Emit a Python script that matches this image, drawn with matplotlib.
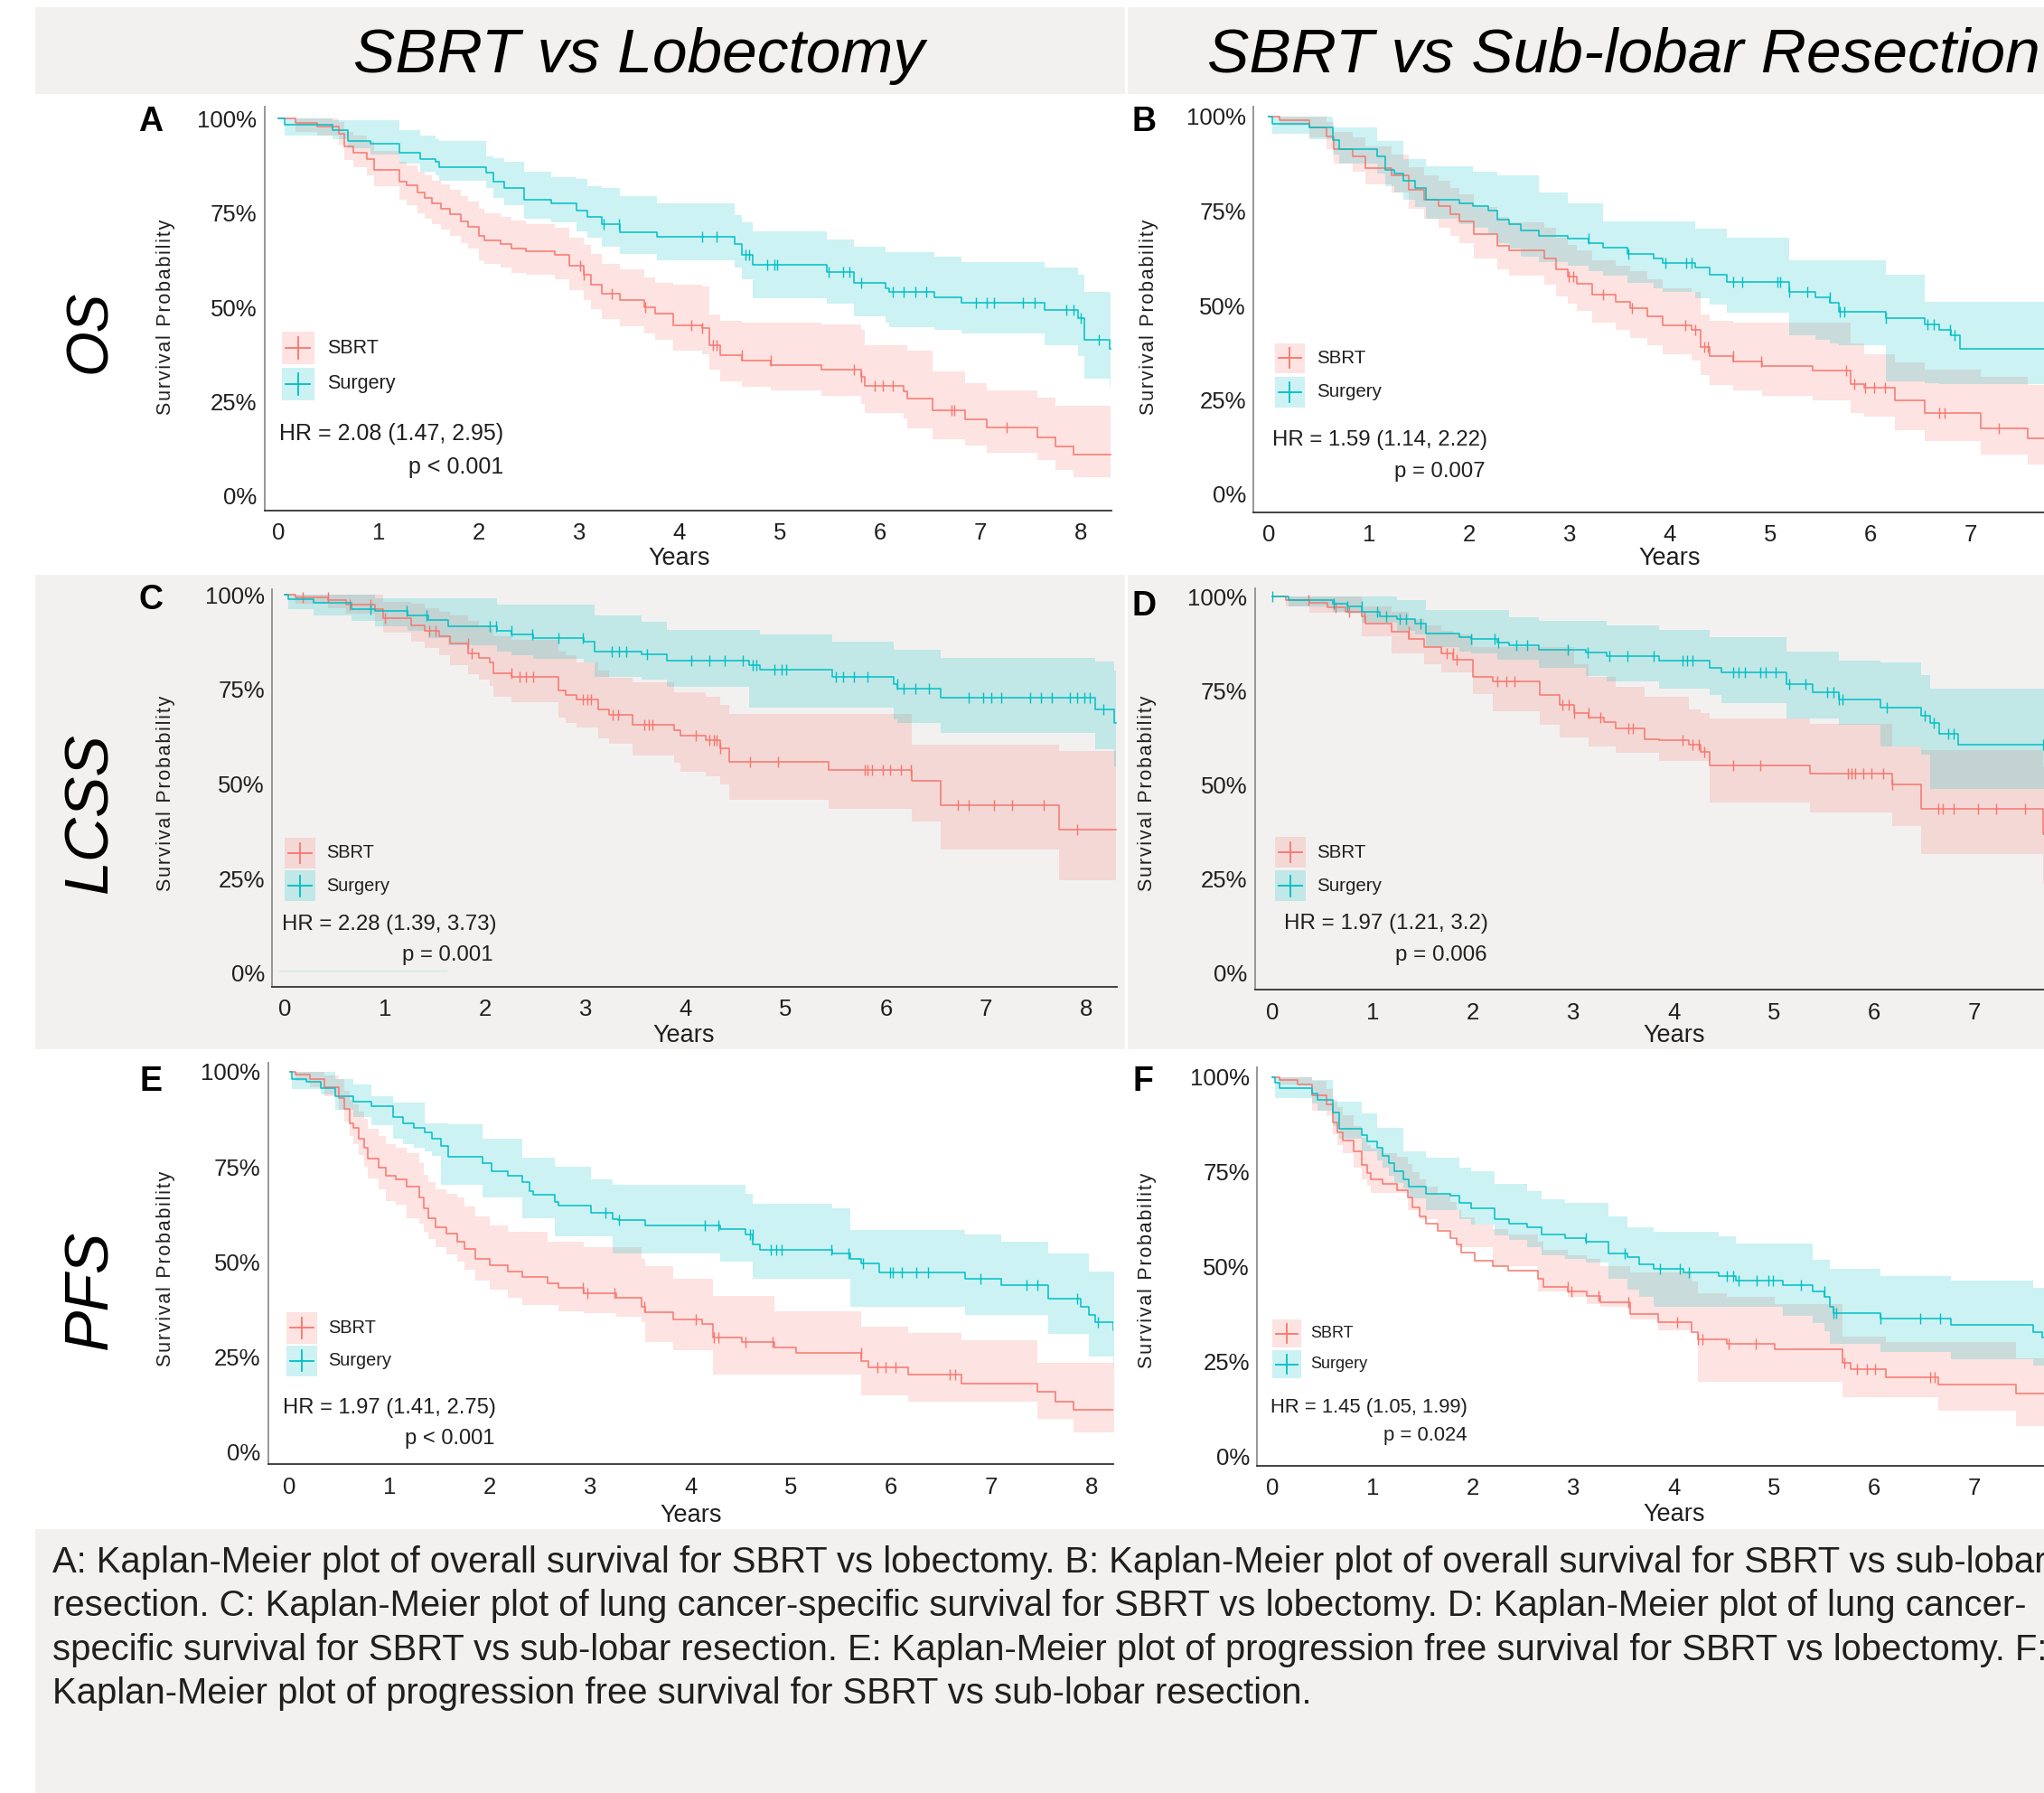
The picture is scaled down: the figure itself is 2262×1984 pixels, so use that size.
import matplotlib
matplotlib.use("Agg")
import matplotlib.pyplot as plt
from matplotlib.patches import Rectangle
import numpy as np

W, H = 2262, 1984          # output size in pixels
DPI = 100
SBRT_COLOR = "#F8766D"
SURG_COLOR = "#00BFC4"
BAND_ALPHA = 0.2
GREY = "#f2f1f0"
TEXT = "#1f1f1f"

plt.rcParams["font.family"] = ["Liberation Sans", "DejaVu Sans"]

# ------------------------------------------------------------------ data --
COL_TITLES = ["SBRT vs Lobectomy", "SBRT vs Sub-lobar Resection"]
ROW_LABELS = ["OS", "LCSS", "PFS"]
PANEL_LETTERS = ["A", "B", "C", "D", "E", "F"]
HR_TEXT = ["HR = 2.08 (1.47, 2.95)", "HR = 1.59 (1.14, 2.22)", "HR = 2.28 (1.39, 3.73)",
           "HR = 1.97 (1.21, 3.2)", "HR = 1.97 (1.41, 2.75)", "HR = 1.45 (1.05, 1.99)"]
P_TEXT = ["p < 0.001", "p = 0.007", "p = 0.001", "p = 0.006", "p < 0.001", "p = 0.024"]
Y_TICKS = [0, 0.25, 0.5, 0.75, 1.0]
Y_TICK_LABELS = ["0%", "25%", "50%", "75%", "100%"]
X_TICKS_LOB = [0, 1, 2, 3, 4, 5, 6, 7, 8]
X_TICKS_SUB = [0, 1, 2, 3, 4, 5, 6, 7]      # 8 falls outside the cropped picture
CAPTION = [
    "A: Kaplan-Meier plot of overall survival for SBRT vs lobectomy. B: Kaplan-Meier plot of overall survival for SBRT vs sub-lobar",
    "resection. C: Kaplan-Meier plot of lung cancer-specific survival for SBRT vs lobectomy. D: Kaplan-Meier plot of lung cancer-",
    "specific survival for SBRT vs sub-lobar resection. E: Kaplan-Meier plot of progression free survival for SBRT vs lobectomy. F:",
    "Kaplan-Meier plot of progression free survival for SBRT vs sub-lobar resection.",
]

# Panel A: OS, SBRT vs lobectomy
A_SBRT_T = [0, 0.172, 0.388, 0.603, 0.661, 0.747, 0.890, 0.962, 1.214, 1.285, 1.393, 1.465, 1.537, 1.623, 1.716, 1.824,
            1.896, 2.004, 2.054, 2.219, 2.327, 2.470, 2.758, 2.901, 3.045, 3.117, 3.224, 3.404, 3.655, 3.763, 3.943, 4.230,
            4.302, 4.409, 4.625, 4.912, 5.415, 5.810, 5.846, 6.241, 6.277, 6.528, 6.851, 7.066, 7.569, 7.749, 7.928, 8.30]
A_SBRT_S = [1.0, 0.988, 0.979, 0.959, 0.925, 0.910, 0.893, 0.864, 0.833, 0.823, 0.803, 0.789, 0.774, 0.760, 0.747, 0.727,
            0.714, 0.688, 0.677, 0.667, 0.655, 0.648, 0.638, 0.609, 0.587, 0.560, 0.536, 0.519, 0.501, 0.484, 0.453, 0.445,
            0.399, 0.373, 0.360, 0.346, 0.336, 0.316, 0.292, 0.278, 0.258, 0.227, 0.204, 0.182, 0.156, 0.131, 0.110, 0.110]
A_SBRT_LO = [1.0, 0.965, 0.955, 0.930, 0.890, 0.870, 0.850, 0.820, 0.785, 0.770, 0.750, 0.735, 0.720, 0.705, 0.690, 0.670,
             0.655, 0.625, 0.615, 0.605, 0.590, 0.585, 0.575, 0.545, 0.520, 0.495, 0.470, 0.450, 0.430, 0.415, 0.385, 0.375,
             0.335, 0.305, 0.290, 0.280, 0.265, 0.245, 0.220, 0.205, 0.180, 0.150, 0.135, 0.115, 0.095, 0.070, 0.050, 0.050]
A_SBRT_HI = [1.0, 1.0, 1.0, 0.990, 0.965, 0.955, 0.940, 0.915, 0.885, 0.875, 0.860, 0.850, 0.835, 0.825, 0.810, 0.795,
             0.780, 0.760, 0.750, 0.740, 0.730, 0.720, 0.710, 0.685, 0.665, 0.640, 0.615, 0.600, 0.580, 0.565, 0.560, 0.555,
             0.480, 0.465, 0.460, 0.460, 0.455, 0.440, 0.400, 0.400, 0.385, 0.330, 0.300, 0.280, 0.260, 0.240, 0.240, 0.240]
A_SBRT_CENS = [3.01, 3.05, 3.33, 3.66, 4.12, 4.23, 4.34, 4.37, 4.62, 4.91, 5.74, 5.81, 5.95, 6.03, 6.13, 6.71, 6.74, 7.26]
A_SURG_T = [0, 0.065, 0.546, 0.697, 0.926, 1.214, 1.415, 1.573, 1.609, 2.075, 2.147, 2.255, 2.456, 2.722, 2.973, 3.081,
            3.224, 3.404, 3.777, 4.553, 4.625, 4.732, 5.472, 5.738, 6.061, 6.097, 6.542, 6.815, 7.641, 7.978, 8.036, 8.287, 8.30]
A_SURG_S = [1.0, 0.983, 0.970, 0.939, 0.932, 0.910, 0.893, 0.886, 0.871, 0.857, 0.832, 0.815, 0.784, 0.776, 0.755, 0.740,
            0.720, 0.698, 0.686, 0.667, 0.638, 0.613, 0.594, 0.565, 0.550, 0.540, 0.526, 0.511, 0.494, 0.472, 0.414, 0.389, 0.389]
A_SURG_LO = [1.0, 0.955, 0.945, 0.920, 0.905, 0.880, 0.860, 0.850, 0.835, 0.815, 0.790, 0.770, 0.735, 0.725, 0.700, 0.685,
             0.660, 0.640, 0.625, 0.605, 0.575, 0.525, 0.510, 0.477, 0.460, 0.448, 0.440, 0.430, 0.400, 0.370, 0.310, 0.290, 0.290]
A_SURG_HI = [1.0, 1.0, 0.995, 0.995, 0.995, 0.970, 0.955, 0.945, 0.940, 0.900, 0.895, 0.885, 0.860, 0.845, 0.840, 0.820,
             0.815, 0.795, 0.775, 0.745, 0.725, 0.700, 0.680, 0.660, 0.645, 0.645, 0.635, 0.620, 0.605, 0.585, 0.540, 0.535, 0.535]
A_SURG_CENS = [3.25, 3.40, 4.23, 4.37, 4.66, 4.70, 4.88, 4.95, 4.98, 5.49, 5.63, 5.70, 5.81, 6.13, 6.24, 6.35, 6.46,
               6.96, 7.07, 7.14, 7.43, 7.54, 7.86, 7.93, 8.00, 8.18]

# Panel B: OS, SBRT vs sub-lobar resection
B_SBRT_T = [0, 0.106, 0.400, 0.576, 0.647, 0.840, 0.958, 1.223, 1.399, 1.546, 1.693, 1.810, 1.898, 2.045, 2.280, 2.398,
            2.751, 2.868, 2.986, 3.074, 3.221, 3.456, 3.603, 3.779, 3.926, 4.220, 4.308, 4.396, 4.632, 4.925, 5.425, 5.807,
            5.936, 6.248, 6.542, 7.100, 7.570, 8.30]
B_SBRT_S = [1.0, 0.991, 0.972, 0.947, 0.913, 0.894, 0.864, 0.845, 0.806, 0.781, 0.762, 0.742, 0.723, 0.688, 0.659, 0.645,
            0.625, 0.596, 0.576, 0.557, 0.529, 0.510, 0.493, 0.471, 0.447, 0.435, 0.391, 0.366, 0.352, 0.339, 0.327, 0.293,
            0.283, 0.249, 0.215, 0.174, 0.148, 0.148]
B_SBRT_LO = [1.0, 0.975, 0.945, 0.915, 0.875, 0.855, 0.820, 0.800, 0.755, 0.730, 0.705, 0.685, 0.665, 0.625, 0.595, 0.580,
             0.555, 0.525, 0.505, 0.485, 0.455, 0.435, 0.415, 0.395, 0.370, 0.355, 0.315, 0.290, 0.275, 0.260, 0.250, 0.215,
             0.205, 0.170, 0.140, 0.105, 0.080, 0.080]
B_SBRT_HI = [1.0, 1.0, 1.0, 0.985, 0.960, 0.945, 0.920, 0.900, 0.865, 0.845, 0.830, 0.810, 0.795, 0.760, 0.735, 0.720,
             0.705, 0.680, 0.660, 0.645, 0.620, 0.605, 0.590, 0.570, 0.545, 0.535, 0.475, 0.460, 0.455, 0.455, 0.454, 0.400,
             0.370, 0.350, 0.330, 0.310, 0.290, 0.290]
B_SBRT_CENS = [2.99, 3.04, 3.33, 3.62, 4.15, 4.25, 4.34, 4.38, 4.63, 4.91, 5.76, 5.84, 5.95, 6.04, 6.15, 6.69, 6.74, 7.28]
B_SURG_T = [0, 0.035, 0.400, 0.635, 0.705, 1.076, 1.164, 1.252, 1.340, 1.458, 1.563, 1.898, 2.034, 2.192, 2.280, 2.398,
            2.516, 2.692, 2.986, 3.191, 3.338, 3.573, 3.838, 3.926, 4.249, 4.396, 4.573, 5.190, 5.454, 5.601, 5.689, 6.160,
            6.542, 6.689, 6.806, 6.894, 8.30]
B_SURG_S = [1.0, 0.981, 0.972, 0.938, 0.913, 0.894, 0.859, 0.850, 0.830, 0.811, 0.781, 0.771, 0.764, 0.752, 0.728, 0.715,
            0.698, 0.684, 0.676, 0.664, 0.654, 0.637, 0.625, 0.613, 0.601, 0.581, 0.562, 0.537, 0.522, 0.508, 0.483, 0.467,
            0.449, 0.435, 0.420, 0.386, 0.386]
B_SURG_LO = [1.0, 0.955, 0.940, 0.900, 0.875, 0.850, 0.815, 0.800, 0.780, 0.760, 0.730, 0.715, 0.705, 0.690, 0.665, 0.650,
             0.630, 0.615, 0.605, 0.590, 0.580, 0.560, 0.545, 0.535, 0.520, 0.503, 0.480, 0.420, 0.410, 0.400, 0.395, 0.300,
             0.295, 0.293, 0.293, 0.293, 0.293]
B_SURG_HI = [1.0, 1.0, 1.0, 0.972, 0.972, 0.935, 0.935, 0.935, 0.887, 0.887, 0.869, 0.869, 0.854, 0.854, 0.845, 0.845,
             0.845, 0.800, 0.771, 0.771, 0.723, 0.723, 0.723, 0.723, 0.703, 0.703, 0.680, 0.620, 0.620, 0.620, 0.620, 0.581,
             0.510, 0.510, 0.510, 0.510, 0.510]
B_SURG_CENS = [3.19, 3.59, 3.96, 4.16, 4.22, 4.63, 4.72, 5.07, 5.10, 5.19, 5.37, 5.60, 5.70, 5.74, 6.16, 6.57, 6.63, 6.80, 6.84]

# Panel C: LCSS, SBRT vs lobectomy
C_SBRT_T = [0, 0.108, 0.431, 0.611, 0.899, 0.985, 1.258, 1.402, 1.546, 1.653, 1.833, 1.941, 2.049, 2.085, 2.265, 2.732,
            2.804, 2.912, 3.127, 3.235, 3.472, 3.882, 3.954, 4.206, 4.349, 4.436, 5.428, 6.254, 6.542, 7.728, 8.30]
C_SBRT_S = [1.0, 0.993, 0.986, 0.974, 0.961, 0.937, 0.920, 0.904, 0.891, 0.871, 0.846, 0.834, 0.821, 0.793, 0.782, 0.747,
            0.735, 0.723, 0.698, 0.683, 0.657, 0.642, 0.628, 0.616, 0.595, 0.558, 0.537, 0.509, 0.443, 0.379, 0.379]
C_SBRT_LO = [1.0, 0.975, 0.965, 0.950, 0.930, 0.900, 0.875, 0.860, 0.840, 0.815, 0.790, 0.775, 0.760, 0.730, 0.715, 0.675,
             0.660, 0.649, 0.620, 0.607, 0.575, 0.555, 0.533, 0.520, 0.500, 0.459, 0.435, 0.402, 0.328, 0.247, 0.247]
C_SBRT_HI = [1.0, 1.0, 1.0, 1.0, 1.0, 0.982, 0.975, 0.965, 0.955, 0.945, 0.930, 0.920, 0.910, 0.890, 0.880, 0.850,
             0.840, 0.821, 0.800, 0.780, 0.768, 0.743, 0.743, 0.730, 0.710, 0.686, 0.686, 0.603, 0.603, 0.587, 0.587]
C_SBRT_CENS = [0.18, 0.43, 0.65, 0.86, 1.00, 1.44, 1.51, 1.83, 1.87, 2.26, 2.34, 2.41, 2.48, 2.98, 3.02, 3.06, 3.27,
               3.33, 3.59, 3.63, 3.67, 4.10, 4.24, 4.28, 4.31, 4.35, 4.64, 4.92, 5.79, 5.82, 5.86, 5.97, 6.04, 6.15,
               6.25, 6.72, 6.83, 7.08, 7.26, 7.57, 7.91]
C_SURG_T = [0, 0.036, 0.288, 0.669, 0.899, 1.222, 1.438, 1.632, 2.121, 2.265, 2.480, 2.983, 3.091, 3.559, 3.810, 4.637,
            4.745, 5.464, 6.075, 6.111, 6.542, 8.088, 8.280, 8.30]
C_SURG_S = [1.0, 0.988, 0.978, 0.963, 0.957, 0.945, 0.932, 0.916, 0.904, 0.895, 0.886, 0.875, 0.850, 0.842, 0.826, 0.813,
            0.801, 0.784, 0.764, 0.751, 0.729, 0.698, 0.661, 0.661]
C_SURG_LO = [1.0, 0.961, 0.945, 0.930, 0.916, 0.904, 0.885, 0.866, 0.850, 0.840, 0.830, 0.820, 0.784, 0.775, 0.756, 0.702,
             0.702, 0.702, 0.670, 0.661, 0.636, 0.591, 0.546, 0.546]
C_SURG_HI = [1.0, 1.0, 1.0, 1.0, 0.990, 0.990, 0.990, 0.990, 0.974, 0.974, 0.974, 0.974, 0.945, 0.928, 0.908, 0.908,
             0.895, 0.877, 0.854, 0.854, 0.834, 0.823, 0.800, 0.800]
C_SURG_CENS = [0.86, 1.22, 1.42, 2.05, 2.11, 2.26, 2.47, 2.73, 2.98, 3.26, 3.34, 3.41, 3.62, 4.06, 4.24, 4.39, 4.57,
               4.67, 4.71, 4.89, 4.96, 5.00, 5.50, 5.57, 5.68, 5.82, 6.11, 6.18, 6.29, 6.43, 6.83, 6.97, 7.05, 7.15,
               7.44, 7.55, 7.66, 7.84, 7.91, 7.98, 8.03, 8.17]

# Panel D: LCSS, SBRT vs sub-lobar resection
D_SBRT_T = [0, 0.129, 0.364, 0.552, 0.728, 0.893, 0.922, 1.186, 1.362, 1.509, 1.685, 1.803, 1.997, 2.196, 2.666, 2.860,
            3.007, 3.153, 3.300, 3.418, 3.711, 3.858, 4.152, 4.269, 4.357, 5.355, 6.177, 6.471, 7.680, 8.30]
D_SBRT_S = [1.0, 0.990, 0.983, 0.972, 0.961, 0.949, 0.928, 0.907, 0.887, 0.866, 0.850, 0.833, 0.788, 0.775, 0.738, 0.713,
            0.691, 0.678, 0.668, 0.651, 0.622, 0.620, 0.606, 0.589, 0.552, 0.531, 0.502, 0.436, 0.370, 0.370]
D_SBRT_LO = [1.0, 0.974, 0.957, 0.957, 0.957, 0.895, 0.895, 0.850, 0.850, 0.820, 0.800, 0.800, 0.742, 0.697, 0.660, 0.626,
             0.626, 0.602, 0.602, 0.585, 0.585, 0.564, 0.564, 0.564, 0.453, 0.428, 0.391, 0.317, 0.238, 0.238]
D_SBRT_HI = [1.0, 1.0, 1.0, 1.0, 1.0, 0.975, 0.975, 0.960, 0.940, 0.925, 0.910, 0.900, 0.866, 0.866, 0.866, 0.866,
             0.820, 0.788, 0.788, 0.760, 0.734, 0.734, 0.700, 0.690, 0.676, 0.662, 0.602, 0.593, 0.550, 0.550]
D_SBRT_CENS = [0.36, 0.63, 0.76, 0.92, 1.36, 1.74, 1.80, 1.84, 2.24, 2.33, 2.41, 2.89, 2.95, 3.01, 3.15, 3.27, 3.55,
               3.59, 4.09, 4.19, 4.25, 4.30, 4.59, 4.86, 5.74, 5.77, 5.81, 5.89, 5.97, 6.09, 6.18, 6.64, 6.68, 6.79,
               7.03, 7.21, 7.50]
D_SURG_T = [0, 0.159, 0.599, 0.746, 0.893, 1.069, 1.245, 1.421, 1.527, 1.862, 1.979, 2.243, 2.361, 2.654, 3.124, 3.330,
            3.858, 4.357, 4.475, 5.121, 5.385, 5.649, 6.060, 6.471, 6.559, 6.648, 6.835, 8.30]
D_SURG_S = [1.0, 0.990, 0.982, 0.974, 0.961, 0.949, 0.940, 0.928, 0.903, 0.893, 0.887, 0.878, 0.870, 0.858, 0.851, 0.843,
            0.831, 0.812, 0.800, 0.767, 0.746, 0.726, 0.705, 0.684, 0.664, 0.635, 0.608, 0.608]
D_SURG_LO = [1.0, 0.974, 0.960, 0.955, 0.932, 0.932, 0.910, 0.900, 0.866, 0.855, 0.850, 0.833, 0.833, 0.812, 0.790, 0.775,
             0.755, 0.740, 0.717, 0.676, 0.676, 0.661, 0.602, 0.580, 0.490, 0.490, 0.490, 0.490]
D_SURG_HI = [1.0, 1.0, 1.0, 1.0, 1.0, 1.0, 0.990, 0.990, 0.965, 0.965, 0.965, 0.965, 0.945, 0.936, 0.936, 0.924,
             0.912, 0.893, 0.893, 0.855, 0.855, 0.830, 0.825, 0.792, 0.755, 0.755, 0.755, 0.755]
D_SURG_CENS = [0.00, 0.61, 0.75, 0.89, 1.04, 1.13, 1.27, 1.33, 1.48, 1.98, 2.21, 2.25, 2.43, 2.54, 2.94, 3.14, 3.36,
               3.54, 3.80, 4.09, 4.13, 4.19, 4.59, 4.65, 4.71, 4.86, 4.92, 5.02, 5.15, 5.31, 5.53, 5.59, 5.65, 5.68,
               6.12, 6.50, 6.59, 6.74, 6.79, 7.68]

# Panel E: PFS, SBRT vs lobectomy
E_SBRT_T = [0, 0.058, 0.201, 0.345, 0.489, 0.546, 0.597, 0.633, 0.690, 0.740, 0.776, 0.884, 0.956, 1.064, 1.172, 1.294,
            1.337, 1.388, 1.459, 1.567, 1.675, 1.747, 1.855, 1.999, 2.178, 2.322, 2.574, 2.682, 2.933, 3.257, 3.508, 3.544,
            3.832, 4.119, 4.227, 4.515, 4.838, 5.054, 5.701, 5.773, 6.168, 6.707, 7.462, 7.642, 7.822, 8.30]
E_SBRT_S = [1.0, 0.992, 0.980, 0.959, 0.930, 0.902, 0.865, 0.853, 0.824, 0.800, 0.771, 0.747, 0.726, 0.718, 0.697, 0.669,
            0.640, 0.616, 0.591, 0.575, 0.554, 0.534, 0.509, 0.491, 0.474, 0.460, 0.444, 0.432, 0.419, 0.407, 0.383, 0.368,
            0.348, 0.338, 0.301, 0.289, 0.275, 0.262, 0.240, 0.223, 0.203, 0.180, 0.158, 0.133, 0.111, 0.111]
E_SBRT_LO = [1.0, 0.975, 0.960, 0.935, 0.900, 0.870, 0.830, 0.810, 0.780, 0.750, 0.720, 0.690, 0.660, 0.650, 0.616, 0.600,
             0.579, 0.560, 0.538, 0.520, 0.500, 0.480, 0.450, 0.428, 0.407, 0.387, 0.387, 0.370, 0.365, 0.355, 0.342, 0.289,
             0.268, 0.268, 0.203, 0.203, 0.203, 0.203, 0.150, 0.150, 0.133, 0.133, 0.088, 0.088, 0.052, 0.052]
E_SBRT_HI = [1.0, 1.0, 1.0, 0.990, 0.980, 0.950, 0.925, 0.915, 0.895, 0.875, 0.850, 0.830, 0.810, 0.800, 0.785, 0.760,
             0.730, 0.710, 0.690, 0.680, 0.669, 0.645, 0.620, 0.595, 0.579, 0.579, 0.554, 0.554, 0.538, 0.538, 0.509, 0.489,
             0.456, 0.456, 0.411, 0.411, 0.370, 0.370, 0.330, 0.330, 0.313, 0.294, 0.235, 0.235, 0.235, 0.235]
E_SBRT_CENS = [2.93, 2.97, 3.24, 3.54, 4.05, 4.23, 4.28, 4.55, 4.82, 5.70, 5.87, 5.95, 6.05, 6.59, 6.64]
E_SURG_T = [0, 0.020, 0.165, 0.309, 0.453, 0.633, 0.812, 1.028, 1.136, 1.244, 1.352, 1.423, 1.510, 1.582, 1.927, 2.013,
            2.178, 2.322, 2.394, 2.430, 2.646, 2.682, 3.005, 3.221, 3.278, 3.544, 4.299, 4.551, 4.623, 4.694, 5.413, 5.593,
            5.701, 5.881, 6.743, 7.103, 7.570, 7.894, 7.980, 8.037, 8.217, 8.30]
E_SURG_S = [1.0, 0.981, 0.973, 0.957, 0.935, 0.922, 0.910, 0.881, 0.865, 0.853, 0.841, 0.824, 0.804, 0.777, 0.759, 0.738,
            0.726, 0.710, 0.685, 0.677, 0.657, 0.648, 0.630, 0.613, 0.610, 0.597, 0.587, 0.572, 0.546, 0.531, 0.522, 0.509,
            0.497, 0.473, 0.456, 0.440, 0.403, 0.383, 0.362, 0.343, 0.321, 0.321]
E_SURG_LO = [1.0, 0.955, 0.955, 0.940, 0.900, 0.880, 0.860, 0.824, 0.810, 0.800, 0.790, 0.779, 0.702, 0.702, 0.669, 0.669,
             0.669, 0.616, 0.616, 0.616, 0.567, 0.567, 0.567, 0.522, 0.522, 0.522, 0.501, 0.501, 0.456, 0.456, 0.456, 0.383,
             0.383, 0.383, 0.362, 0.362, 0.311, 0.311, 0.252, 0.252, 0.231, 0.231]
E_SURG_HI = [1.0, 1.0, 1.0, 1.0, 0.980, 0.967, 0.935, 0.918, 0.918, 0.918, 0.865, 0.865, 0.865, 0.861, 0.824, 0.824,
             0.824, 0.775, 0.775, 0.775, 0.751, 0.751, 0.718, 0.702, 0.702, 0.702, 0.702, 0.680, 0.652, 0.652, 0.640, 0.583,
             0.583, 0.583, 0.571, 0.554, 0.523, 0.523, 0.474, 0.474, 0.474, 0.474]
E_SURG_CENS = [3.15, 3.29, 4.14, 4.28, 4.59, 4.62, 4.80, 4.86, 4.91, 5.41, 5.58, 5.72, 5.99, 6.02, 6.11, 6.25, 6.37,
               6.89, 7.35, 7.46, 7.86, 8.07]

# Panel F: PFS, SBRT vs sub-lobar resection
F_SBRT_T = [0, 0.070, 0.247, 0.393, 0.540, 0.599, 0.646, 0.705, 0.805, 0.893, 0.940, 0.981, 1.098, 1.245, 1.351, 1.392,
            1.468, 1.527, 1.644, 1.773, 1.832, 1.879, 2.020, 2.196, 2.349, 2.643, 2.701, 2.948, 3.136, 3.271, 3.565, 3.841,
            4.181, 4.240, 4.533, 5.003, 5.679, 5.767, 6.119, 6.636, 7.411, 8.30]
F_SBRT_S = [1.0, 0.993, 0.981, 0.952, 0.928, 0.879, 0.854, 0.833, 0.805, 0.768, 0.747, 0.731, 0.718, 0.702, 0.683, 0.657,
            0.632, 0.612, 0.595, 0.575, 0.558, 0.538, 0.515, 0.501, 0.488, 0.468, 0.447, 0.435, 0.423, 0.406, 0.374, 0.353,
            0.327, 0.308, 0.296, 0.281, 0.246, 0.230, 0.209, 0.189, 0.164, 0.164]
F_SBRT_LO = [1.0, 0.980, 0.980, 0.911, 0.900, 0.850, 0.820, 0.800, 0.760, 0.730, 0.714, 0.694, 0.694, 0.694, 0.649, 0.649,
             0.624, 0.624, 0.600, 0.580, 0.550, 0.550, 0.550, 0.500, 0.500, 0.435, 0.435, 0.420, 0.400, 0.394, 0.360, 0.333,
             0.333, 0.197, 0.197, 0.197, 0.156, 0.156, 0.156, 0.119, 0.078, 0.078]
F_SBRT_HI = [1.0, 1.0, 1.0, 0.989, 0.969, 0.940, 0.920, 0.900, 0.870, 0.840, 0.820, 0.810, 0.800, 0.790, 0.770, 0.750,
             0.730, 0.710, 0.690, 0.670, 0.650, 0.630, 0.610, 0.600, 0.585, 0.565, 0.545, 0.530, 0.520, 0.500, 0.484, 0.484,
             0.460, 0.430, 0.420, 0.400, 0.316, 0.316, 0.300, 0.300, 0.259, 0.259]
F_SBRT_CENS = [2.94, 2.98, 3.25, 3.55, 4.03, 4.24, 4.29, 4.55, 4.82, 5.70, 5.83, 5.93, 6.01, 6.56, 6.60]
F_SURG_T = [0, 0.023, 0.070, 0.393, 0.452, 0.599, 0.669, 0.893, 0.940, 1.039, 1.098, 1.157, 1.216, 1.304, 1.362, 1.527,
            1.773, 1.862, 1.979, 2.214, 2.361, 2.537, 2.684, 2.919, 3.124, 3.347, 3.535, 3.653, 3.799, 4.093, 4.445, 4.622,
            5.091, 5.385, 5.502, 5.561, 5.590, 6.060, 6.765, 7.587, 7.675, 8.30]
F_SURG_S = [1.0, 0.985, 0.970, 0.956, 0.940, 0.907, 0.864, 0.846, 0.829, 0.813, 0.792, 0.772, 0.751, 0.731, 0.710, 0.691,
            0.686, 0.669, 0.653, 0.624, 0.612, 0.603, 0.585, 0.575, 0.565, 0.534, 0.524, 0.505, 0.495, 0.484, 0.475, 0.464,
            0.450, 0.435, 0.419, 0.394, 0.378, 0.363, 0.345, 0.328, 0.312, 0.312]
F_SURG_LO = [1.0, 0.944, 0.944, 0.930, 0.910, 0.870, 0.837, 0.805, 0.805, 0.780, 0.760, 0.740, 0.720, 0.706, 0.680, 0.649,
             0.649, 0.625, 0.610, 0.583, 0.570, 0.550, 0.530, 0.520, 0.510, 0.468, 0.440, 0.420, 0.394, 0.394, 0.394, 0.394,
             0.370, 0.350, 0.330, 0.296, 0.296, 0.275, 0.255, 0.238, 0.238, 0.238]
F_SURG_HI = [1.0, 1.0, 1.0, 0.993, 0.993, 0.936, 0.936, 0.903, 0.903, 0.866, 0.866, 0.866, 0.866, 0.805, 0.805, 0.788,
             0.788, 0.760, 0.751, 0.718, 0.718, 0.700, 0.677, 0.669, 0.669, 0.632, 0.603, 0.603, 0.591, 0.591, 0.580, 0.560,
             0.560, 0.517, 0.517, 0.493, 0.493, 0.476, 0.464, 0.445, 0.445, 0.445]
F_SURG_CENS = [3.12, 3.51, 3.86, 4.06, 4.15, 4.53, 4.59, 4.65, 4.83, 4.94, 4.99, 5.27, 5.50, 5.59, 5.62, 6.06, 6.46, 6.66]

CURVES = {
    "A": [(A_SBRT_T, A_SBRT_S, A_SBRT_LO, A_SBRT_HI, A_SBRT_CENS), (A_SURG_T, A_SURG_S, A_SURG_LO, A_SURG_HI, A_SURG_CENS)],
    "B": [(B_SBRT_T, B_SBRT_S, B_SBRT_LO, B_SBRT_HI, B_SBRT_CENS), (B_SURG_T, B_SURG_S, B_SURG_LO, B_SURG_HI, B_SURG_CENS)],
    "C": [(C_SBRT_T, C_SBRT_S, C_SBRT_LO, C_SBRT_HI, C_SBRT_CENS), (C_SURG_T, C_SURG_S, C_SURG_LO, C_SURG_HI, C_SURG_CENS)],
    "D": [(D_SBRT_T, D_SBRT_S, D_SBRT_LO, D_SBRT_HI, D_SBRT_CENS), (D_SURG_T, D_SURG_S, D_SURG_LO, D_SURG_HI, D_SURG_CENS)],
    "E": [(E_SBRT_T, E_SBRT_S, E_SBRT_LO, E_SBRT_HI, E_SBRT_CENS), (E_SURG_T, E_SURG_S, E_SURG_LO, E_SURG_HI, E_SURG_CENS)],
    "F": [(F_SBRT_T, F_SBRT_S, F_SBRT_LO, F_SBRT_HI, F_SBRT_CENS), (F_SURG_T, F_SURG_S, F_SURG_LO, F_SURG_HI, F_SURG_CENS)],
}

# ---------------------------------------------------------------- layout --
# pixel geometry of each panel (top-left origin): axes box, px of t=0, px/year,
# px of 0% and 100%, and where the side texts sit.
LAYOUT = {
    "A": dict(box=(292.6, 118, 1230, 564.5), x0=307.7, ppy=111.0, y0=549, y1=131, xt=X_TICKS_LOB,
              letter=(167, 135), ylab=(183, 351), xlab=(752, 618),
              key=(0.04, 0.36), keys=[(0.349, 0.435), (0.254, 0.340)], tx=0.49, leg_fs=15.5,
              hr=(0.012, 0.165), p=(2.246, 0.077), hr_fs=18.0),
    "B": dict(box=(1387.3, 118, 2324.7, 566.5), x0=1404.3, ppy=110.9, y0=547, y1=129, xt=X_TICKS_SUB,
              letter=(1266, 135), ylab=(1271, 351), xlab=(1848, 618),
              key=(0.06, 0.358), keys=[(0.321, 0.400), (0.230, 0.311)], tx=0.475, leg_fs=14.8,
              hr=(0.03, 0.144), p=(2.16, 0.061), hr_fs=17.3),
    "C": dict(box=(301.3, 652.4, 1235.6, 1091.5), x0=315.0, ppy=110.9, y0=1077, y1=658, xt=X_TICKS_LOB,
              letter=(167, 664), ylab=(183, 878), xlab=(757, 1146),
              key=(0.0, 0.307), keys=[(0.278, 0.358), (0.190, 0.272)], tx=0.415, leg_fs=14.4,
              hr=(-0.023, 0.130), p=(2.083, 0.048), hr_fs=17.3),
    "D": dict(box=(1388.6, 650.7, 2323.0, 1095), x0=1408.2, ppy=111.0, y0=1077, y1=660.3, xt=X_TICKS_SUB,
              letter=(1266, 671), ylab=(1269, 878), xlab=(1853, 1146),
              key=(0.023, 0.329), keys=[(0.281, 0.362), (0.191, 0.274)], tx=0.44, leg_fs=14.8,
              hr=(0.112, 0.131), p=(2.138, 0.048), hr_fs=17.4),
    "E": dict(box=(296.6, 1175.5, 1231.6, 1620.4), x0=320.5, ppy=110.9, y0=1607, y1=1185.8, xt=X_TICKS_LOB,
              letter=(167, 1197), ylab=(183, 1404), xlab=(765, 1677),
              key=(-0.032, 0.275), keys=[(0.286, 0.367), (0.200, 0.281)], tx=0.38, leg_fs=14.4,
              hr=(-0.065, 0.117), p=(2.042, 0.035), hr_fs=17.1),
    "F": dict(box=(1391.2, 1180.7, 2326.0, 1621.5), x0=1408.2, ppy=111.0, y0=1611.2, y1=1191.7, xt=X_TICKS_SUB,
              letter=(1265, 1197), ylab=(1269, 1406), xlab=(1853, 1676),
              key=(0.0, 0.282), keys=[(0.286, 0.360), (0.205, 0.279)], tx=0.382, leg_fs=13.0,
              hr=(-0.018, 0.127), p=(1.938, 0.053), hr_fs=15.8),
}
ROW_LABEL_POS = [(100, 367, 46), (100, 899, 49), (100, 1427, 49)]
TITLE_POS = [(390.6, 80), (1336.5, 80)]


# ---------------------------------------------------------------- helpers --
def fx(px):
    return px / W


def fy(py):
    return 1 - py / H


def grey_box(fig, x0, y0, x1, y1, color=GREY):
    fig.add_artist(Rectangle((fx(x0), fy(y1)), (x1 - x0) / W, (y1 - y0) / H,
                             transform=fig.transFigure, facecolor=color, lw=0, zorder=0))


def surv_at(t_arr, s_arr, t):
    i = np.searchsorted(t_arr, t, side="right") - 1
    return s_arr[max(i, 0)]


def spaced(text):
    # the reference axis title is set with a little extra letter spacing
    return "\u200a".join(text)


def draw_panel(fig, key):
    lay = LAYOUT[key]
    left, top, right, bottom = lay["box"]
    ax = fig.add_axes([fx(left), fy(bottom), (right - left) / W, (bottom - top) / H])
    ax.set_facecolor("none")
    ppu = lay["y0"] - lay["y1"]
    ax.set_xlim((left - lay["x0"]) / lay["ppy"], (right - lay["x0"]) / lay["ppy"])
    ax.set_ylim((lay["y0"] - bottom) / ppu, (lay["y0"] - top) / ppu)

    for (t, s, lo, hi, cens), color in zip(CURVES[key], [SBRT_COLOR, SURG_COLOR]):
        t, s = np.asarray(t), np.asarray(s)
        ax.fill_between(t, lo, hi, step="post", color=color, alpha=BAND_ALPHA, lw=0)
        ax.step(t, s, where="post", color=color, lw=1.1)
        cy = [surv_at(t, s, c) for c in cens]
        ax.plot(cens, cy, ls="none", marker="|", ms=8, mew=1.0, color=color)

    # legend (drawn by hand: shaded key + "+" glyph)
    kx0, kx1 = lay["key"]
    kw = kx1 - kx0
    for (ylo, yhi), color, label in zip(lay["keys"], [SBRT_COLOR, SURG_COLOR], ["SBRT", "Surgery"]):
        ym = (ylo + yhi) / 2
        ax.add_patch(Rectangle((kx0, ylo), kw, yhi - ylo, facecolor=color, alpha=BAND_ALPHA, lw=0))
        ax.plot([kx0 + 0.12 * kw, kx1 - 0.12 * kw], [ym, ym], color=color, lw=1.3)
        hh = 0.33 * (yhi - ylo)
        ax.plot([kx0 + kw / 2] * 2, [ym - hh, ym + hh], color=color, lw=1.3)
        ax.text(lay["tx"], ym, label, fontsize=lay["leg_fs"], color=TEXT, va="center", ha="left")

    idx = PANEL_LETTERS.index(key)
    ax.text(*lay["hr"], HR_TEXT[idx], fontsize=lay["hr_fs"], color=TEXT, va="center", ha="left")
    ax.text(*lay["p"], P_TEXT[idx], fontsize=lay["hr_fs"], color=TEXT, va="center", ha="right")

    ax.set_yticks(Y_TICKS, Y_TICK_LABELS)
    ax.set_xticks(lay["xt"], [str(v) for v in lay["xt"]])
    ax.tick_params(axis="y", length=0, pad=6, labelsize=18.5, labelcolor=TEXT)
    ax.tick_params(axis="x", length=0, pad=10, labelsize=18.5, labelcolor=TEXT)
    for side in ("top", "right"):
        ax.spines[side].set_visible(False)
    ax.spines["left"].set_color("#8f8f8f")
    ax.spines["left"].set_linewidth(1.3)
    ax.spines["bottom"].set_color("#333333")
    ax.spines["bottom"].set_linewidth(1.3)

    lx, ly = lay["letter"]
    fig.text(fx(lx), fy(ly), key, fontsize=27, fontweight="bold", ha="center", va="center")
    sx, sy = lay["ylab"]
    fig.text(fx(sx), fy(sy), spaced("Survival Probability"), fontsize=15.5, rotation=90,
             ha="center", va="center", color=TEXT)
    xx, xy = lay["xlab"]
    fig.text(fx(xx), fy(xy), "Years", fontsize=19.5, ha="center", va="center", color=TEXT)
    return ax


# ------------------------------------------------------------------- main --
def main() -> None:
    fig = plt.figure(figsize=(W / DPI, H / DPI), dpi=DPI)
    fig.patch.set_facecolor("white")

    # background bands
    grey_box(fig, 39, 8, 1245, 104)
    grey_box(fig, 1248, 8, W, 104)
    grey_box(fig, 39, 636, 1245, 1161)
    grey_box(fig, 1248, 636, W, 1161)
    grey_box(fig, 39, 1692, W, H)

    for title, (tx, ty) in zip(COL_TITLES, TITLE_POS):
        fig.text(fx(tx), fy(ty), title, fontsize=50, style="italic", ha="left", va="baseline")
    for label, (rx, ry, fs) in zip(ROW_LABELS, ROW_LABEL_POS):
        fig.text(fx(rx), fy(ry), label, fontsize=fs, style="italic", rotation=90,
                 ha="center", va="center")

    for key in PANEL_LETTERS:
        ax = draw_panel(fig, key)
        if key == "C":
            # faint stray line near the baseline of panel C
            ax.plot([-0.054, 1.614], [0.007, 0.007], color="#cfeaea", lw=1.0)

    for i, line in enumerate(CAPTION):
        fig.text(fx(57.7), fy(1740 + 48.3 * i), line, fontsize=28.8, color=TEXT,
                 ha="left", va="baseline")

    fig.savefig("out.png", dpi=DPI)
    plt.close(fig)


if __name__ == "__main__":
    main()
